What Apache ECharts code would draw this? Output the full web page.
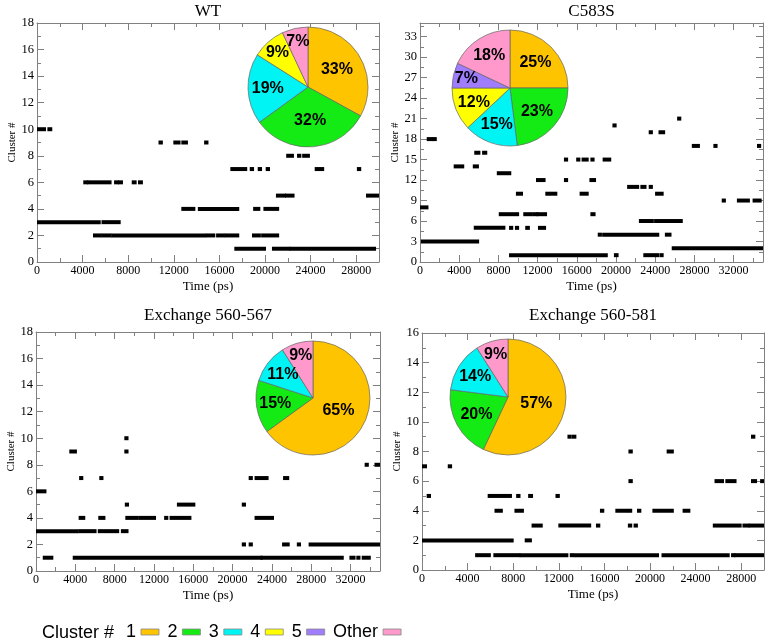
<!DOCTYPE html>
<html>
<head>
<meta charset="utf-8">
<script src="https://cdn.jsdelivr.net/npm/echarts@6/dist/echarts.min.js"></script>
<style>html,body{margin:0;padding:0;background:#fff}#c{width:768px;height:644px}</style>
</head>
<body>
<div id="c"></div>
<script>
// ---------- DATA ----------
const panelTitles = ['WT', 'C583S', 'Exchange 560-567', 'Exchange 560-581'];
const xMaxes = [30000, 35000, 35000, 30000];
const yMaxes = [18, 35, 18, 16];
const yIntervals = [2, 3, 2, 2];
const xTickInterval = 4000;
const legendNames = ['1', '2', '3', '4', '5', 'Other'];

// segments: [cluster, startTime(ps), endTime(ps)]
const wtSegments = [
  [10,0,650],[10,1050,1200],
  [9,10800,10900],[9,12100,12450],[9,12800,13100],[9,14800,14900],
  [8,22000,22400],[8,22950,23050],[8,23400,23800],
  [7,17100,18300],[7,18800,18900],[7,19500,19600],[7,20200,20300],[7,24500,25050],[7,28200,28300],
  [6,4200,4350],[6,4550,6400],[6,6900,7050],[6,7250,7400],[6,8450,8600],[6,9000,9150],
  [5,21100,21700],[5,21900,22450],[5,29000,30000],
  [4,12800,13750],[4,14250,17600],[4,19100,19450],[4,20000,21100],
  [3,0,5450],[3,5800,7200],
  [2,5050,5550],[2,5800,6400],[2,6650,14700],[2,14950,15500],[2,15850,16300],[2,16550,17600],[2,19000,19500],[2,19800,21100],
  [1,17450,19950],[1,20750,22100],[1,22300,29600]
];
const c583sSegments = [
  [8,0,700],
  [3,250,5870],
  [18,850,1150],[18,1400,1550],
  [14,3600,4350],[14,5550,5850],
  [16,5700,6000],[16,6500,6700],
  [5,5650,8550],[5,9250,9350],[5,9850,9950],[5,10900,11050],[5,12200,12700],
  [13,8000,9150],
  [7,8200,9950],[7,10700,11300],[7,11600,11900],[7,12050,12800],[7,17550,17750],
  [1,9250,19000],[1,19950,20100],[1,22950,24250],[1,24600,24700],
  [10,9950,10350],[10,12950,13200],[10,13500,13850],[10,16450,17050],[10,24150,24700],
  [12,12000,12650],[12,14850,14950],[12,17450,17800],
  [15,14850,14950],[15,16100,16200],[15,16650,17050],[15,17550,17650],[15,18800,19350],
  [4,18300,18400],[4,18750,24250],[4,25150,25500],
  [20,19800,19900],
  [11,21300,22200],[11,22650,22950],[11,23500,23600],
  [6,22500,22950],[6,23150,23700],[6,24050,26650],
  [19,23500,23600],[19,24500,24850],
  [21,26400,26500],
  [2,25850,35000],
  [17,27900,28400],[17,30100,30200],[17,34550,34650],
  [9,30950,31050],[9,32500,33500],[9,34100,34700]
];
const ex567Segments = [
  [6,0,900],
  [3,0,4200],[3,4500,6000],[3,6450,7900],[3,8200,8300],[3,8800,9250],
  [1,850,1600],[1,3900,22900],[1,23000,31150],[1,32050,32350],[1,32750,32850],[1,33300,33900],
  [9,3550,4000],[9,9150,9250],
  [10,9150,9250],
  [7,4550,4650],[7,6600,6700],[7,21800,21900],[7,22400,23500],[7,25300,25600],
  [4,4500,4850],[4,6500,6900],[4,9250,10300],[4,10600,12050],[4,13200,13300],[4,13750,15650],[4,22400,24050],
  [5,9200,9300],[5,14500,16050],[5,21100,21200],
  [2,21100,21200],[2,21800,21900],[2,25200,25650],[2,26700,26800],[2,27900,35000],
  [8,33600,33700],[8,34600,35000]
];
const ex581Segments = [
  [7,0,300],[7,2400,2500],
  [5,550,650],[5,5900,7750],[5,8400,8500],[5,9450,9600],[5,11850,11950],
  [2,0,7900],[2,9150,9500],
  [1,4800,5900],[1,6400,8500],[1,8700,12700],[1,13100,13200],[1,13450,20650],[1,21150,26850],[1,27250,27350],[1,27500,30000],
  [4,6500,6950],[4,8250,8800],[4,15750,15850],[4,17100,17950],[4,18200,18300],[4,19000,19100],[4,20350,21950],[4,23000,23400],
  [3,9750,10450],[3,12100,14700],[3,15400,15500],[3,18200,18300],[3,18700,18800],[3,25650,27900],[3,28250,28600],[3,28800,30000],
  [9,12900,13000],[9,13300,13400],[9,29000,29100],
  [8,18250,18350],[8,21600,21950],
  [6,18250,18350],[6,25800,26350],[6,26750,27450],[6,29000,29250],[6,29800,29900]
];

// pie percentages
const wtPieNames = ['1','2','3','4','Other'];
const wtPieValues = [33,32,19,9,7];
const c583sPieNames = ['1','2','3','4','5','Other'];
const c583sPieValues = [25,23,15,12,7,18];
const ex567PieNames = ['1','2','3','Other'];
const ex567PieValues = [65,15,11,9];
const ex581PieNames = ['1','2','3','Other'];
const ex581PieValues = [57,20,14,9];

// ---------- STYLE / LAYOUT ----------
const colorMap = {'1':'#ffc400','2':'#14ea14','3':'#00f4f4','4':'#ffff00','5':'#a07cff','Other':'#ff99cc'};
const grids = [
  {left:37, top:23, width:342, height:239},
  {left:420, top:23, width:343, height:239},
  {left:36, top:332, width:344, height:239},
  {left:422, top:333, width:342, height:237}
];
const pieGeom = [
  {c:[308,87], r:60},
  {c:[510,88], r:58},
  {c:[313,398], r:57},
  {c:[508,397], r:58}
];
const titleY = [3, 307];
const serif = 'Liberation Serif';
const sans = 'Liberation Sans';
const axisGray = '#808080';

const segmentsList = [wtSegments, c583sSegments, ex567Segments, ex581Segments];
const pieNamesList = [wtPieNames, c583sPieNames, ex567PieNames, ex581PieNames];
const pieValuesList = [wtPieValues, c583sPieValues, ex567PieValues, ex581PieValues];

const xAxes = [], yAxes = [], series = [], titles = [];

function axisCommon(){
  return {
    type:'value', min:0,
    axisLine:{show:true, onZero:false, lineStyle:{color:axisGray, width:1}},
    axisTick:{show:true, inside:true, length:7, lineStyle:{color:axisGray, width:1}},
    minorTick:{show:true, splitNumber:2, length:4, lineStyle:{color:axisGray, width:1}},
    splitLine:{show:false}, minorSplitLine:{show:false}
  };
}

function labelFraction(p){
  if (p >= 0.5) return 0.5;
  if (p >= 0.3) return 0.56;
  if (p >= 0.2) return 0.62;
  if (p >= 0.1) return 0.67;
  return 0.77;
}
const plainNum = (v) => String(v);

grids.forEach((g, i) => {
  xAxes.push(Object.assign(axisCommon(), {
    gridIndex:i, position:'bottom', max:xMaxes[i], interval:xTickInterval,
    axisLabel:{show:true, showMaxLabel:false, margin:3, color:'#000', fontFamily:serif, fontSize:12, formatter:plainNum},
    name:'Time (ps)', nameLocation:'middle', nameGap:18,
    nameTextStyle:{color:'#000', fontFamily:serif, fontSize:13}
  }));
  xAxes.push(Object.assign(axisCommon(), {
    gridIndex:i, position:'top', max:xMaxes[i], interval:xTickInterval,
    axisLabel:{show:false}
  }));
  yAxes.push(Object.assign(axisCommon(), {
    gridIndex:i, position:'left', max:yMaxes[i], interval:yIntervals[i],
    axisLabel:{show:true, showMaxLabel: yMaxes[i] % yIntervals[i] === 0, margin:3, color:'#000', fontFamily:serif, fontSize:12.5, formatter:plainNum},
    name:'Cluster #', nameLocation:'middle', nameGap:18,
    nameTextStyle:{color:'#000', fontFamily:serif, fontSize:11}
  }));
  yAxes.push(Object.assign(axisCommon(), {
    gridIndex:i, position:'right', max:yMaxes[i], interval:yIntervals[i],
    axisLabel:{show:false}
  }));

  series.push({
    type:'custom', xAxisIndex:2*i, yAxisIndex:2*i, z:2, silent:true,
    encode:{x:[1,2], y:0},
    data: segmentsList[i],
    renderItem: function(params, api){
      const y = api.value(0), x0 = api.value(1), x1 = api.value(2);
      const p0 = api.coord([x0, y]), p1 = api.coord([x1, y]);
      const cs = params.coordSys;
      let left = p0[0] - 1.6, right = p1[0] + 1.6;
      left = Math.max(left, cs.x); right = Math.min(right, cs.x + cs.width);
      return {type:'rect', shape:{x:left, y:p0[1]-2, width:Math.max(right-left, 1), height:4}, style:{fill:'#000'}};
    }
  });

  const names = pieNamesList[i], vals = pieValuesList[i];
  const total = vals.reduce((a,b)=>a+b,0);
  const geo = pieGeom[i];
  series.push({
    type:'pie', z:10, silent:true, center:geo.c, radius:geo.r,
    startAngle:90, clockwise:true, avoidLabelOverlap:false,
    itemStyle:{borderColor:'#666', borderWidth:0.7},
    label:{show:true, position:'inside', formatter:(p)=>p.value + '%', color:'#000', fontFamily:sans, fontWeight:'bold', fontSize:16},
    labelLine:{show:false},
    labelLayout: function(params){
      let cum = 0;
      for (let j = 0; j < params.dataIndex; j++) cum += vals[j];
      const p = vals[params.dataIndex] / total;
      const mid = (cum / total + p / 2) * Math.PI * 2;
      const f = labelFraction(p);
      return {x: geo.c[0] + Math.sin(mid) * geo.r * f, y: geo.c[1] - Math.cos(mid) * geo.r * f, align:'center', verticalAlign:'middle'};
    },
    data: names.map((n, k) => ({name:n, value:vals[k], itemStyle:{color:colorMap[n]}}))
  });

  titles.push({
    text: panelTitles[i], left: g.left + g.width/2, top: titleY[i < 2 ? 0 : 1], textAlign:'center', padding:0,
    textStyle:{fontFamily:serif, fontSize:17, fontWeight:'normal', color:'#000'}
  });
});

const chart = echarts.init(document.getElementById('c'), null, {renderer:'canvas'});
chart.setOption({
  backgroundColor:'#fff',
  animation:false,
  title: titles,
  grid: grids.map(g => Object.assign({containLabel:false}, g)),
  xAxis: xAxes,
  yAxis: yAxes,
  legend: {
    data: legendNames, left:126, top:623, orient:'horizontal', align:'right',
    icon:'rect', itemWidth:18, itemHeight:6, itemGap:8, selectedMode:false, padding:0,
    itemStyle:{borderColor:'#888', borderWidth:0.8},
    textStyle:{fontFamily:sans, fontSize:18, color:'#000'}
  },
  graphic: [{
    type:'text', x:42, y:633,
    style:{text:'Cluster #', fontFamily:sans, fontSize:18, fill:'#000', textVerticalAlign:'middle', textAlign:'left'}
  }],
  series: series
});
</script>
</body>
</html>
